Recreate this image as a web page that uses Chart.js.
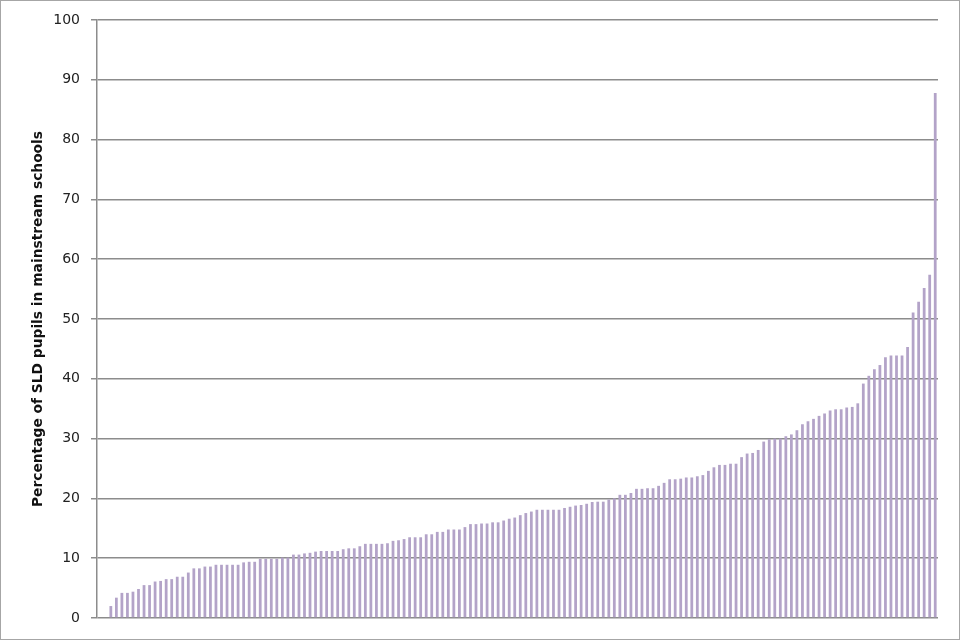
<!DOCTYPE html>
<html>
<head>
<meta charset="utf-8">
<script src="https://cdn.jsdelivr.net/npm/chart.js@4/dist/chart.umd.min.js"></script>
<style>
  html, body { margin: 0; padding: 0; background: #fff; }
  #wrap { position: relative; width: 960px; height: 640px; }
  #frame { position: absolute; left: 0; top: 0; width: 960px; height: 640px; box-sizing: border-box; border: 1px solid #a6a6a6; pointer-events: none; }
</style>
</head>
<body>
<div id="wrap">
  <canvas id="chart" width="960" height="640"></canvas>
  <div id="frame"></div>
</div>
<script>
// percentage of SLD pupils in mainstream schools, one value per local authority, sorted
const sldShare = [
  0, 0, 2.0, 3.4, 4.2, 4.2, 4.4, 4.85, 5.5, 5.5,
  6.1, 6.2, 6.5, 6.5, 6.9, 6.9, 7.6, 8.3, 8.3, 8.6,
  8.6, 8.9, 8.9, 8.9, 8.9, 8.9, 9.3, 9.4, 9.4, 9.9,
  9.9, 9.9, 9.9, 10.1, 10.1, 10.6, 10.6, 10.8, 10.9, 11.1,
  11.2, 11.2, 11.2, 11.2, 11.5, 11.65, 11.65, 12.0, 12.4, 12.4,
  12.4, 12.4, 12.5, 12.9, 13.0, 13.2, 13.5, 13.5, 13.5, 14.0,
  14.0, 14.4, 14.4, 14.8, 14.8, 14.8, 15.2, 15.7, 15.7, 15.8,
  15.8, 16.0, 16.0, 16.3, 16.6, 16.8, 17.2, 17.55, 17.8, 18.1,
  18.1, 18.1, 18.1, 18.1, 18.4, 18.6, 18.8, 18.9, 19.1, 19.4,
  19.45, 19.45, 19.8, 20.0, 20.6, 20.6, 20.9, 21.6, 21.6, 21.7,
  21.7, 22.1, 22.6, 23.2, 23.2, 23.3, 23.5, 23.5, 23.7, 23.9,
  24.6, 25.2, 25.6, 25.6, 25.8, 25.8, 26.9, 27.5, 27.6, 28.1,
  29.5, 29.9, 30.0, 30.0, 30.4, 30.7, 31.4, 32.4, 32.9, 33.3,
  33.8, 34.2, 34.7, 34.9, 34.9, 35.2, 35.3, 35.9, 39.2, 40.5,
  41.6, 42.3, 43.6, 43.9, 43.9, 43.9, 45.3, 51.1, 52.9, 55.2,
  57.4, 87.8
];
const authorities = sldShare.map((_, i) => 'LA ' + (i + 1));
const yTicks = [0, 10, 20, 30, 40, 50, 60, 70, 80, 90, 100];
const yTitle = 'Percentage of SLD pupils in mainstream schools';

const gridGrey = '#8c8c8c';

new Chart(document.getElementById('chart'), {
  type: 'bar',
  data: {
    labels: authorities,
    datasets: [{
      data: sldShare,
      backgroundColor: '#b3a3c8',
      barPercentage: 0.5,
      categoryPercentage: 1.0
    }]
  },
  options: {
    responsive: false,
    animation: false,
    devicePixelRatio: 1,
    layout: { padding: { left: 20, right: 22, top: 20, bottom: 22 } },
    plugins: {
      legend: { display: false },
      tooltip: { enabled: false }
    },
    scales: {
      x: {
        display: false
      },
      y: {
        min: 0,
        max: 100,
        afterBuildTicks: (scale) => { scale.ticks = yTicks.map((v) => ({ value: v })); },
        grid: { color: gridGrey, lineWidth: 1.5, tickLength: 6 },
        border: { color: gridGrey, width: 1.5 },
        ticks: {
          padding: 11,
          color: '#222',
          font: { family: 'DejaVu Sans', size: 14 }
        },
        title: {
          display: true,
          text: yTitle,
          color: '#111',
          padding: { top: 14, bottom: 0 },
          font: { family: 'DejaVu Sans', size: 13.8, weight: 'bold', lineHeight: 0.6 }
        }
      }
    }
  }
});
</script>
</body>
</html>
